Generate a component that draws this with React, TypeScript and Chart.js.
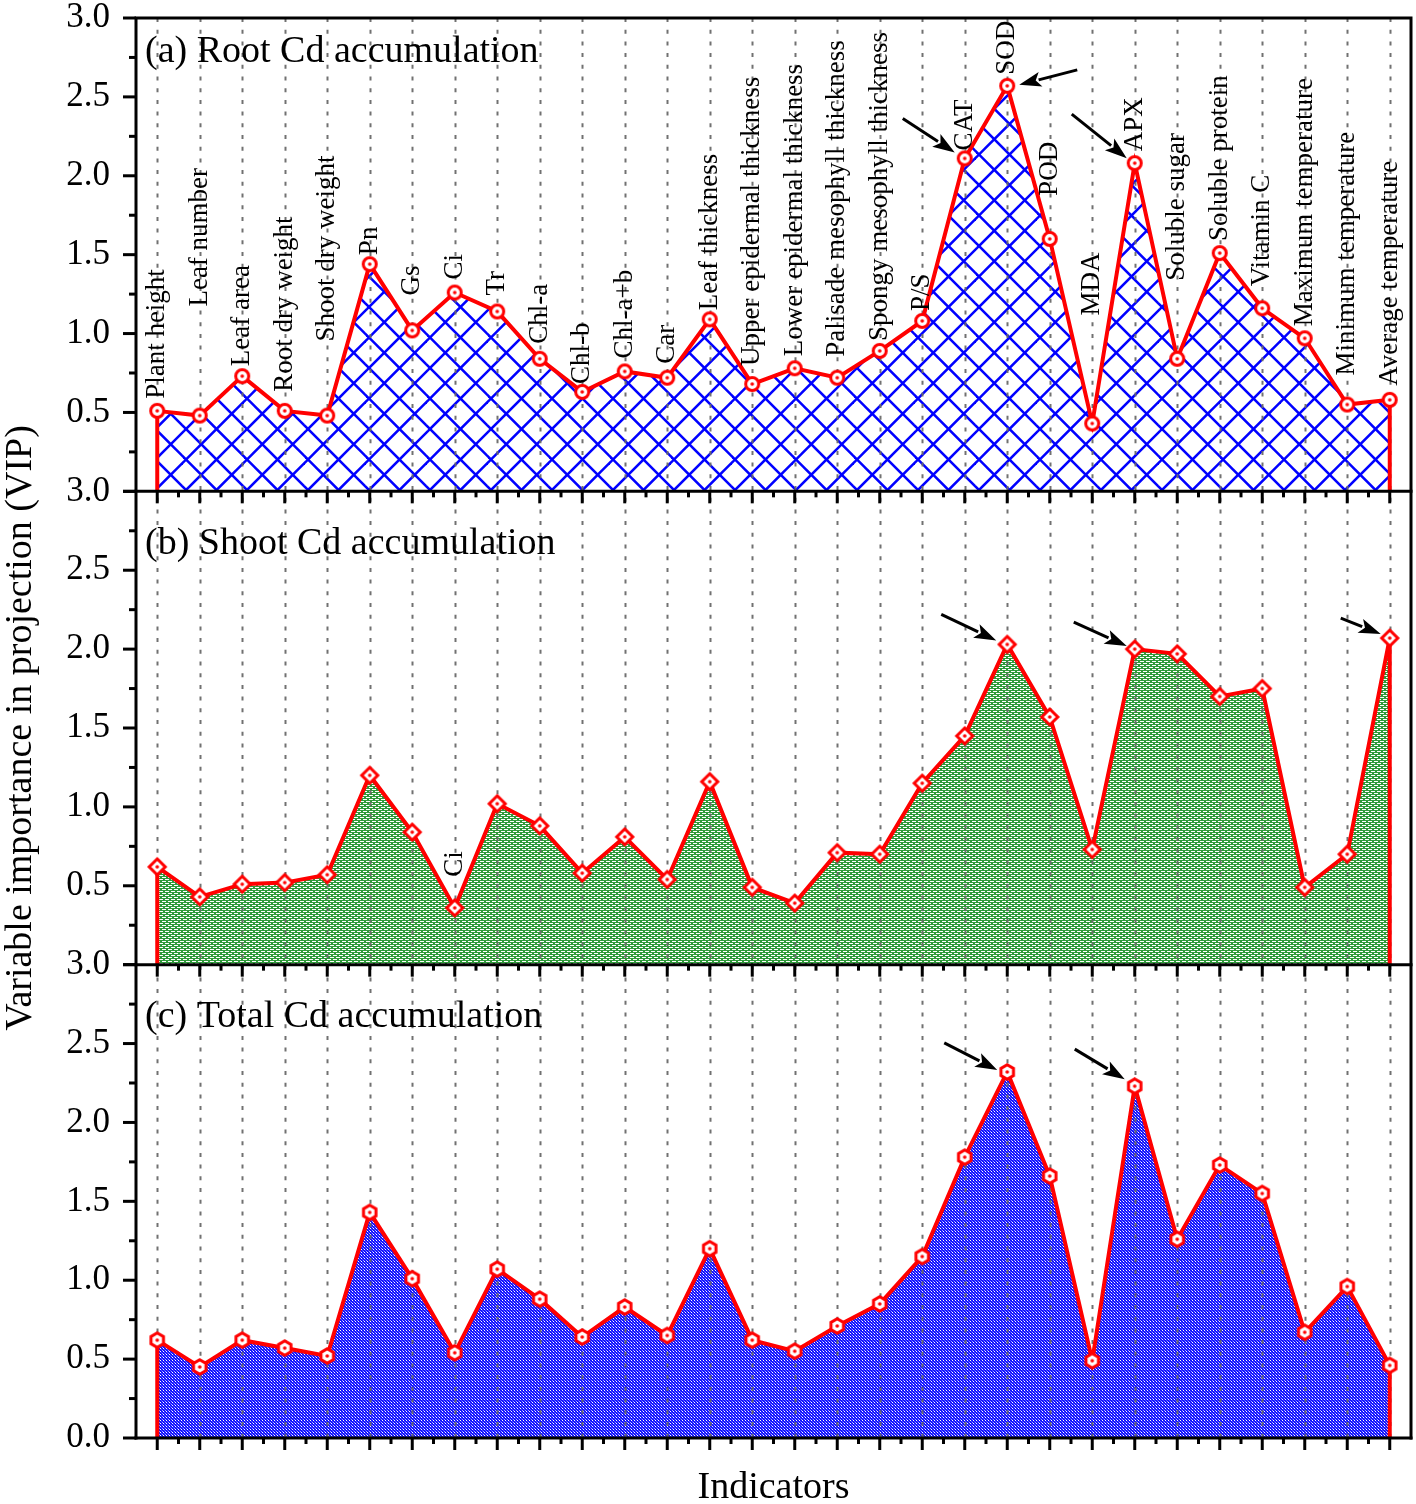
import React, { useEffect, useRef } from 'react';
import { Chart, registerables } from 'chart.js';

Chart.register(...registerables);

const FONT = "'Liberation Serif', 'Times New Roman', serif";

const categories = [
  'Plant height', 'Leaf number', 'Leaf area', 'Root dry weight', 'Shoot dry weight',
  'Pn', 'Gs', 'Ci', 'Tr', 'Chl-a', 'Chl-b', 'Chl-a+b', 'Car', 'Leaf thickness',
  'Upper epidermal thickness', 'Lower epidermal thickness', 'Palisade mesophyll thickness',
  'Spongy mesophyll thickness', 'P/S', 'CAT', 'SOD', 'POD', 'MDA', 'APX', 'Soluble sugar',
  'Soluble protein', 'Vitamin C', 'Maximum temperature', 'Minimum temperature', 'Average temperature',
];

const rootVIP = [0.51, 0.48, 0.73, 0.51, 0.48, 1.44, 1.02, 1.26, 1.14, 0.84, 0.63, 0.76, 0.72, 1.09, 0.68,
  0.78, 0.72, 0.89, 1.08, 2.11, 2.57, 1.60, 0.43, 2.08, 0.84, 1.51, 1.16, 0.97, 0.55, 0.58];
const shootVIP = [0.62, 0.43, 0.51, 0.52, 0.57, 1.20, 0.84, 0.36, 1.02, 0.88, 0.58, 0.81, 0.54, 1.16, 0.49,
  0.39, 0.71, 0.70, 1.15, 1.45, 2.03, 1.57, 0.73, 2.00, 1.97, 1.70, 1.75, 0.49, 0.70, 2.07];
const totalVIP = [0.62, 0.45, 0.62, 0.57, 0.52, 1.43, 1.01, 0.54, 1.07, 0.88, 0.64, 0.83, 0.65, 1.20, 0.62,
  0.55, 0.71, 0.85, 1.15, 1.78, 2.32, 1.66, 0.49, 2.23, 1.26, 1.73, 1.55, 0.67, 0.96, 0.46];

const panelTitles = ['(a) Root Cd accumulation', '(b) Shoot Cd accumulation', '(c) Total Cd accumulation'];
const yMin = 0;
const yMax = 3;
const yStep = 0.5;

// layout: pixel gap between marker and rotated category label (panel a)
const rootLabelGap = [12, 109, 10, 19, 74, 9, 35, 13, 16, 15, 8, 13, 14, 9, 18, 12, 21, 10, 10, 8, 11, 43, 108, 12, 78, 12, 22, 12, 29, 14];
// panel b shows only the Ci label
const shootLabelIdx = [7];
const shootLabelGap = [31];

// arrows: panel, category index, tail offset and tip offset (px from the marker)
const arrows = [
  { panel: 0, idx: 19, tail: [-62, -40], tip: [-10, -6] },
  { panel: 0, idx: 20, tail: [70, -16], tip: [12, -1] },
  { panel: 0, idx: 23, tail: [-63, -49], tip: [-8, -5] },
  { panel: 1, idx: 20, tail: [-66, -30], tip: [-11, -4] },
  { panel: 1, idx: 23, tail: [-61, -27], tip: [-8, -3] },
  { panel: 1, idx: 29, tail: [-49, -20], tip: [-9, -4] },
  { panel: 2, idx: 20, tail: [-63, -29], tip: [-10, -2] },
  { panel: 2, idx: 23, tail: [-60, -37], tip: [-10, -7] },
];

const panelTitleOffset = [44, 63, 62];

function makeMarker(shape: string) {
  const s = 26;
  const c = document.createElement('canvas');
  c.width = s; c.height = s;
  const g = c.getContext('2d')!;
  const cx = s / 2, cy = s / 2;
  g.beginPath();
  if (shape === 'circle') {
    g.arc(cx, cy, 6.5, 0, Math.PI * 2);
  } else if (shape === 'diamond') {
    const r = 8;
    g.moveTo(cx, cy - r); g.lineTo(cx + r, cy); g.lineTo(cx, cy + r); g.lineTo(cx - r, cy); g.closePath();
  } else {
    const r = 7.2;
    for (let k = 0; k < 6; k++) {
      const a = -Math.PI / 2 + k * Math.PI / 3;
      const px = cx + r * Math.cos(a), py = cy + r * Math.sin(a);
      if (k === 0) g.moveTo(px, py); else g.lineTo(px, py);
    }
    g.closePath();
  }
  g.fillStyle = '#ffffff';
  g.fill();
  g.lineWidth = 3;
  g.strokeStyle = '#ff0000';
  g.stroke();
  g.beginPath();
  g.arc(cx, cy, 1.8, 0, Math.PI * 2);
  g.fillStyle = '#ff0000';
  g.fill();
  return c;
}

function makeCrossHatch(ctx: CanvasRenderingContext2D) {
  const T = 61;
  const c = document.createElement('canvas');
  c.width = T; c.height = T;
  const g = c.getContext('2d')!;
  g.fillStyle = '#ffffff';
  g.fillRect(0, 0, T, T);
  g.strokeStyle = '#0000ff';
  g.lineWidth = 2.6;
  for (let k = -4; k <= 6; k++) {
    const c1 = 1 + k * 30.5;
    g.beginPath(); g.moveTo(c1 - T, -T); g.lineTo(c1 + 2 * T, 2 * T); g.stroke();
    const d1 = 5 + k * 30.5;
    g.beginPath(); g.moveTo(d1 + T, -T); g.lineTo(d1 - 2 * T, 2 * T); g.stroke();
  }
  return ctx.createPattern(c, 'repeat')!;
}

function makeBrick(ctx: CanvasRenderingContext2D) {
  const c = document.createElement('canvas');
  c.width = 6; c.height = 4;
  const g = c.getContext('2d')!;
  g.fillStyle = '#2f9a3a';
  g.fillRect(0, 0, 6, 4);
  g.fillStyle = '#ffffff';
  g.fillRect(0, 1, 4, 1);
  g.fillRect(3, 3, 3, 1);
  g.fillRect(0, 3, 1, 1);
  return ctx.createPattern(c, 'repeat')!;
}

function makeDots(ctx: CanvasRenderingContext2D) {
  const c = document.createElement('canvas');
  c.width = 3; c.height = 3;
  const g = c.getContext('2d')!;
  g.fillStyle = '#1212ff';
  g.fillRect(0, 0, 3, 3);
  g.fillStyle = '#ffffff';
  g.fillRect(1, 1, 1, 1);
  g.fillStyle = '#a8a8ff';
  g.fillRect(0, 0, 1, 1);
  g.fillStyle = '#5a5aff';
  g.fillRect(2, 2, 1, 1);
  return ctx.createPattern(c, 'repeat')!;
}

function drawArrow(ctx: CanvasRenderingContext2D, x1: number, y1: number, x2: number, y2: number) {
  const ang = Math.atan2(y2 - y1, x2 - x1);
  const headLen = 22, headW = 7.5;
  const bx = x2 - headLen * Math.cos(ang), by = y2 - headLen * Math.sin(ang);
  ctx.beginPath();
  ctx.moveTo(x1, y1);
  ctx.lineTo(bx + 2 * Math.cos(ang), by + 2 * Math.sin(ang));
  ctx.lineWidth = 3;
  ctx.strokeStyle = '#000';
  ctx.stroke();
  ctx.beginPath();
  ctx.moveTo(x2, y2);
  ctx.lineTo(bx - headW * Math.sin(ang), by + headW * Math.cos(ang));
  ctx.lineTo(bx + 5 * Math.cos(ang), by + 5 * Math.sin(ang));
  ctx.lineTo(bx + headW * Math.sin(ang), by - headW * Math.cos(ang));
  ctx.closePath();
  ctx.fillStyle = '#000';
  ctx.fill();
}

const panelIds = ['yA', 'yB', 'yC'];
const panelData = [rootVIP, shootVIP, totalVIP];

const zeroPad = (s: any) => {
  s.paddingTop = 0; s.paddingBottom = 0; s.paddingLeft = 0; s.paddingRight = 0;
};

export default function App() {
  const ref = useRef<HTMLCanvasElement>(null);
  useEffect(() => {
    document.body.style.margin = '0';
    const canvas = ref.current!;
    const ctx = canvas.getContext('2d')!;
    const fills = [makeCrossHatch(ctx), makeBrick(ctx), makeDots(ctx)];
    const markers = [makeMarker('circle'), makeMarker('diamond'), makeMarker('hexagon')];

    const yScale = (hideZero: boolean) => ({
      type: 'linear' as const,
      position: 'left' as const,
      stack: 'panels',
      stackWeight: 1,
      min: yMin,
      max: yMax,
      grid: { display: false, drawTicks: false },
      border: { display: false },
      ticks: {
        stepSize: yStep,
        autoSkip: false,
        padding: 26,
        color: '#000',
        font: { family: FONT, size: 35 },
        callback: (v: any) => (hideZero && Number(v) === 0 ? '' : Number(v).toFixed(1)),
      },
      afterFit: (s: any) => { s.width = 136; zeroPad(s); },
    });

    const overlay = {
      id: 'overlay',
      beforeDatasetsDraw(chart: any) {
        const { ctx: c, chartArea: ca, scales } = chart;
        const x = scales.x;
        c.save();
        c.strokeStyle = 'rgba(105,105,105,0.95)';
        c.lineWidth = 2;
        c.setLineDash([4, 7.7]);
        for (let i = 0; i < categories.length; i++) {
          const px = Math.round(x.getPixelForValue(i)) + 0.5;
          c.beginPath(); c.moveTo(px, ca.top); c.lineTo(px, ca.bottom); c.stroke();
        }
        c.setLineDash([]);
        c.strokeStyle = '#ff0000';
        c.lineWidth = 4;
        panelIds.forEach((id, p) => {
          const ys = scales[id];
          const d = panelData[p];
          [0, d.length - 1].forEach((i) => {
            const px = x.getPixelForValue(i);
            c.beginPath(); c.moveTo(px, ys.getPixelForValue(d[i])); c.lineTo(px, ys.getPixelForValue(0)); c.stroke();
          });
        });
        c.restore();
      },
      afterDraw(chart: any) {
        const { ctx: c, chartArea: ca, scales } = chart;
        const x = scales.x;
        c.save();
        c.strokeStyle = '#000';
        c.lineWidth = 3;
        c.lineCap = 'butt';
        // frame
        c.beginPath();
        c.moveTo(ca.left, ca.top - 1.5); c.lineTo(ca.left, ca.bottom + 1.5);
        c.moveTo(ca.right, ca.top - 1.5); c.lineTo(ca.right, ca.bottom + 1.5);
        c.moveTo(ca.left, ca.top); c.lineTo(ca.right, ca.top);
        c.stroke();
        panelIds.forEach((id) => {
          const ys = scales[id];
          const yb = ys.getPixelForValue(0);
          c.beginPath(); c.moveTo(ca.left - 1.5, yb); c.lineTo(ca.right + 1.5, yb); c.stroke();
          // y ticks
          for (let v = yMin; v <= yMax + 1e-9; v += yStep / 2) {
            const major = Math.abs(v / yStep - Math.round(v / yStep)) < 1e-6;
            const py = ys.getPixelForValue(v);
            c.beginPath(); c.moveTo(ca.left, py); c.lineTo(ca.left - (major ? 13 : 7), py); c.stroke();
          }
          // x ticks
          for (let i = 0; i < categories.length; i++) {
            const px = x.getPixelForValue(i);
            c.beginPath(); c.moveTo(px, yb); c.lineTo(px, yb + 12); c.stroke();
            if (i < categories.length - 1) {
              const pm = (px + x.getPixelForValue(i + 1)) / 2;
              c.beginPath(); c.moveTo(pm, yb); c.lineTo(pm, yb + 6); c.stroke();
            }
          }
        });
        // category labels
        c.fillStyle = '#000';
        c.font = `27px ${FONT}`;
        c.textAlign = 'left';
        c.textBaseline = 'middle';
        const drawLabel = (i: number, py: number) => {
          c.save();
          c.translate(x.getPixelForValue(i), py);
          c.rotate(-Math.PI / 2);
          c.fillText(categories[i], 0, 0);
          c.restore();
        };
        categories.forEach((_, i) => {
          drawLabel(i, scales.yA.getPixelForValue(rootVIP[i]) - rootLabelGap[i]);
        });
        shootLabelIdx.forEach((i, k) => {
          drawLabel(i, scales.yB.getPixelForValue(shootVIP[i]) - shootLabelGap[k]);
        });
        // panel titles
        c.font = `38px ${FONT}`;
        c.textBaseline = 'alphabetic';
        panelIds.forEach((id, p) => {
          const ys = scales[id];
          c.fillText(panelTitles[p], ca.left + 9, ys.getPixelForValue(yMax) + panelTitleOffset[p]);
        });
        // arrows
        arrows.forEach((a) => {
          const ys = scales[panelIds[a.panel]];
          const px = x.getPixelForValue(a.idx);
          const py = ys.getPixelForValue(panelData[a.panel][a.idx]);
          drawArrow(c, px + a.tail[0], py + a.tail[1], px + a.tip[0], py + a.tip[1]);
        });
        // axis titles
        c.font = `38px ${FONT}`;
        c.textAlign = 'center';
        c.fillText('Indicators', (ca.left + ca.right) / 2, 1498);
        c.save();
        c.translate(31, (ca.top + ca.bottom) / 2);
        c.rotate(-Math.PI / 2);
        c.fillText('Variable importance in projection (VIP)', 0, 0);
        c.restore();
        c.restore();
      },
    };

    const chart = new Chart(canvas, {
      type: 'line',
      data: {
        labels: categories,
        datasets: panelData.map((d, p) => ({
          label: panelTitles[p],
          data: d,
          yAxisID: panelIds[p],
          xAxisID: 'x',
          borderColor: '#ff0000',
          borderWidth: 4,
          backgroundColor: fills[p],
          fill: 'origin',
          tension: 0,
          pointStyle: markers[p] as any,
          pointRadius: 8,
        })),
      },
      options: {
        responsive: false,
        animation: false,
        devicePixelRatio: 1,
        layout: { autoPadding: false, padding: { top: 18, right: 5, left: 0, bottom: 0 } },
        plugins: {
          legend: { display: false },
          tooltip: { enabled: false },
          filler: { drawTime: 'beforeDatasetsDraw' },
        } as any,
        scales: {
          x: {
            type: 'category',
            offset: true,
            grid: { display: false, drawTicks: false },
            border: { display: false },
            ticks: { display: false },
            afterFit: (s: any) => { s.height = 66; zeroPad(s); },
          },
          yC: yScale(false),
          yB: yScale(true),
          yA: yScale(true),
        } as any,
      },
      plugins: [overlay],
    });
    return () => chart.destroy();
  }, []);
  return <canvas ref={ref} width={1416} height={1504} style={{ display: 'block', width: 1416, height: 1504 }} />;
}
